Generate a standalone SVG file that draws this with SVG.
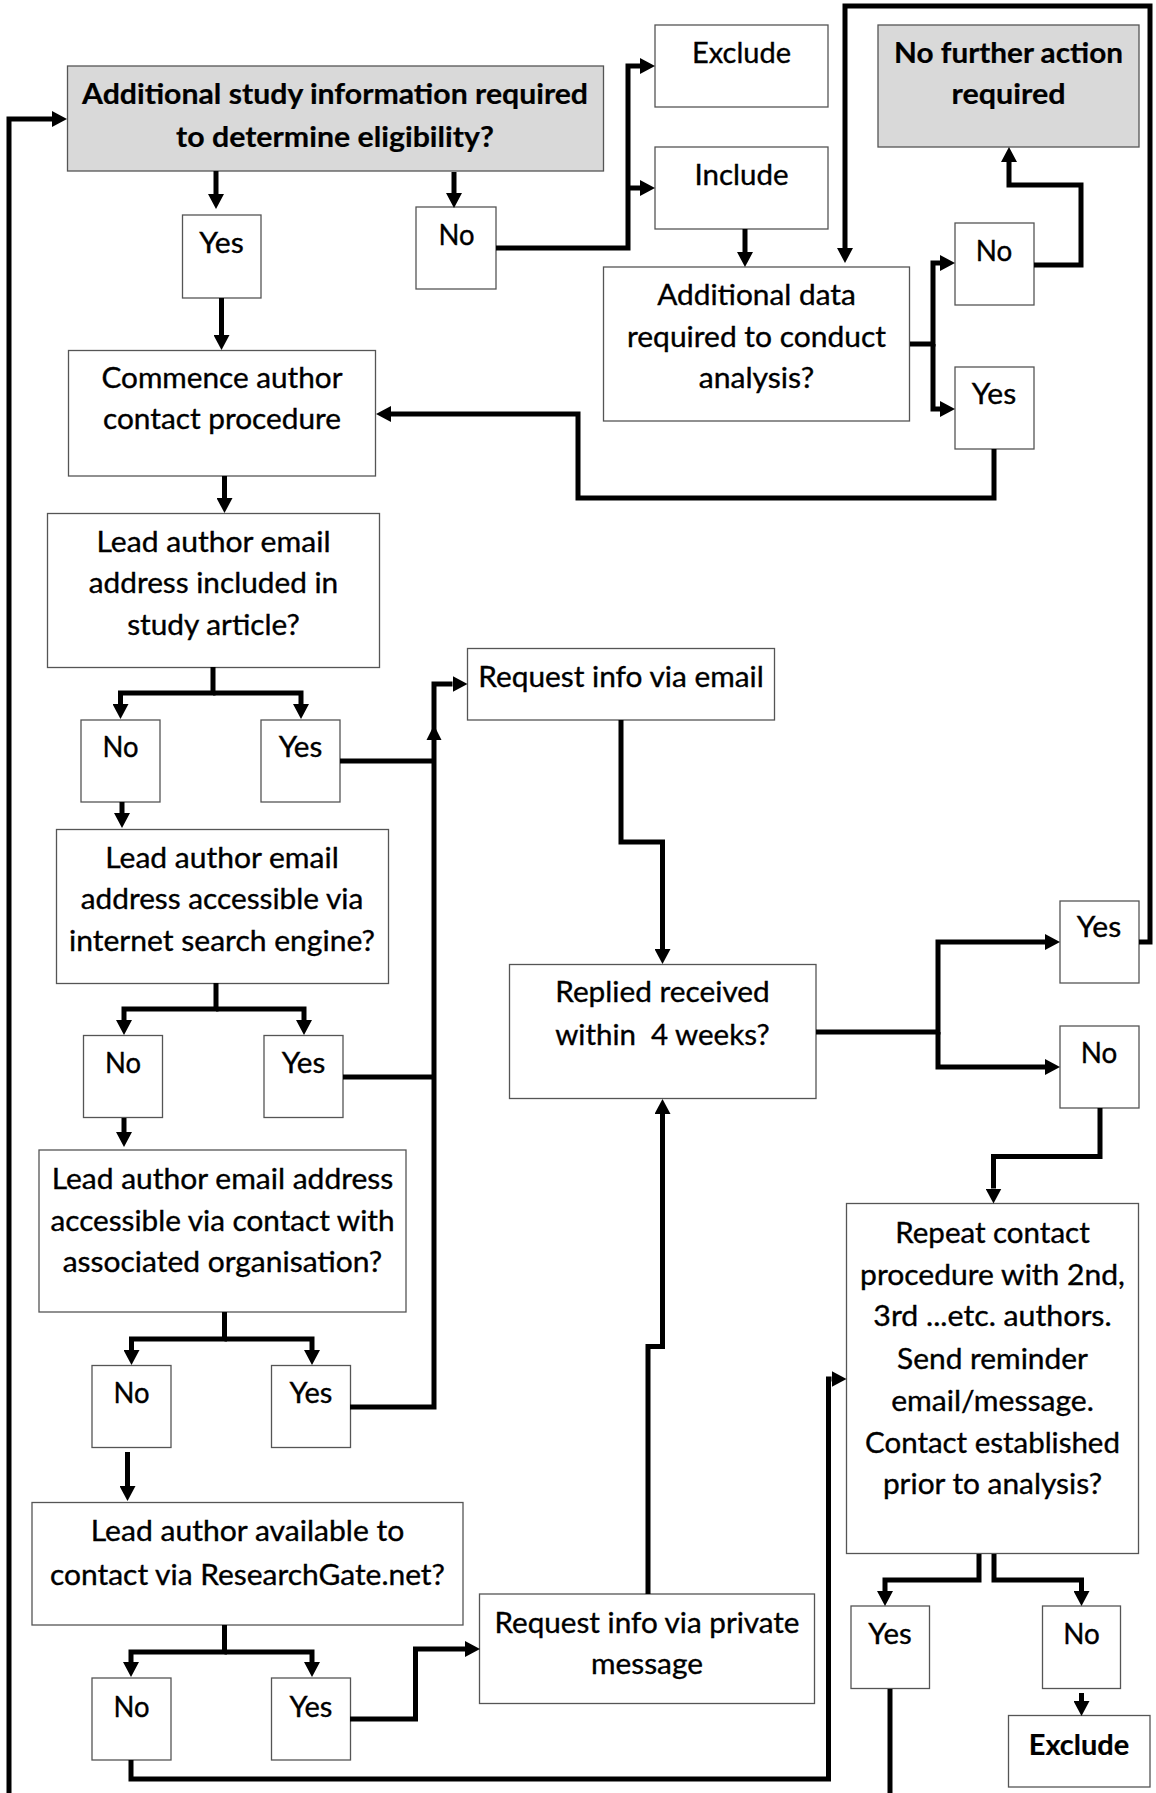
<svg xmlns="http://www.w3.org/2000/svg" width="1156" height="1793" viewBox="0 0 1156 1793">
  <defs>
    <style>
      .box { fill: #ffffff; stroke: #555555; stroke-width: 1.3; }
      .grey { fill: #d9d9d9; }
      .t { font-family: Lato, "Open Sans", "Liberation Sans", sans-serif; font-size: 28px; fill: #000000; stroke: #000000; stroke-width: 0.35; text-anchor: middle; }
      .b { font-weight: bold; stroke-width: 0.2; }
      .wire { fill: none; stroke: #000000; stroke-width: 5; stroke-linejoin: miter; stroke-linecap: butt; }
      .arr { marker-end: url(#ah); }
      .head { fill: #000000; }
    </style>
    <marker id="ah" markerUnits="userSpaceOnUse" markerWidth="15" markerHeight="16" viewBox="0 0 15 16" refX="0" refY="8" orient="auto">
      <path d="M0,0 L15,8 L0,16 Z" fill="#000000"/>
    </marker>
  </defs>

  <rect x="0" y="0" width="1156" height="1793" fill="#ffffff"/>

  <!-- nodes -->
  <g id="n-eligibility">
    <rect class="box grey" x="67.5" y="66" width="536" height="105"/>
    <text class="t b" x="335" y="104" textLength="506" lengthAdjust="spacingAndGlyphs">Additional study information required</text>
    <text class="t b" x="335" y="147" textLength="318" lengthAdjust="spacingAndGlyphs">to determine eligibility?</text>
  </g>
  <g id="n-exclude-top">
    <rect class="box" x="655" y="25" width="173" height="82"/>
    <text class="t" x="741.5" y="63" textLength="99" lengthAdjust="spacingAndGlyphs">Exclude</text>
  </g>
  <g id="n-include">
    <rect class="box" x="655" y="147" width="173" height="82"/>
    <text class="t" x="741.5" y="185" textLength="94" lengthAdjust="spacingAndGlyphs">Include</text>
  </g>
  <g id="n-no-further-action">
    <rect class="box grey" x="878" y="25" width="261" height="122"/>
    <text class="t b" x="1008.5" y="63" textLength="229" lengthAdjust="spacingAndGlyphs">No further action</text>
    <text class="t b" x="1008.5" y="104" textLength="114" lengthAdjust="spacingAndGlyphs">required</text>
  </g>
  <g id="n-yes-eligibility">
    <rect class="box" x="182.5" y="215" width="78.5" height="83"/>
    <text class="t" x="221.5" y="253" textLength="44.5" lengthAdjust="spacingAndGlyphs">Yes</text>
  </g>
  <g id="n-no-eligibility">
    <rect class="box" x="416" y="207" width="80" height="82"/>
    <text class="t" x="456.5" y="245" textLength="36" lengthAdjust="spacingAndGlyphs">No</text>
  </g>
  <g id="n-additional-data">
    <rect class="box" x="603.5" y="267" width="306" height="154"/>
    <text class="t" x="756.5" y="305" textLength="198.6" lengthAdjust="spacingAndGlyphs">Additional data</text>
    <text class="t" x="756.5" y="347" textLength="259" lengthAdjust="spacingAndGlyphs">required to conduct</text>
    <text class="t" x="756.5" y="388" textLength="115.5" lengthAdjust="spacingAndGlyphs">analysis?</text>
  </g>
  <g id="n-no-data">
    <rect class="box" x="955" y="223" width="79" height="82"/>
    <text class="t" x="994" y="261" textLength="36.5" lengthAdjust="spacingAndGlyphs">No</text>
  </g>
  <g id="n-yes-data">
    <rect class="box" x="955" y="367" width="79" height="82"/>
    <text class="t" x="994" y="404" textLength="44.3" lengthAdjust="spacingAndGlyphs">Yes</text>
  </g>
  <g id="n-commence">
    <rect class="box" x="68.5" y="350.5" width="307" height="125.5"/>
    <text class="t" x="222" y="388" textLength="241" lengthAdjust="spacingAndGlyphs">Commence author</text>
    <text class="t" x="222" y="429" textLength="238" lengthAdjust="spacingAndGlyphs">contact procedure</text>
  </g>
  <g id="n-email-in-article">
    <rect class="box" x="47.5" y="513.5" width="332" height="154"/>
    <text class="t" x="213.5" y="551.5" textLength="234" lengthAdjust="spacingAndGlyphs">Lead author email</text>
    <text class="t" x="213.5" y="593" textLength="249.4" lengthAdjust="spacingAndGlyphs">address included in</text>
    <text class="t" x="213.5" y="635" textLength="172.7" lengthAdjust="spacingAndGlyphs">study article?</text>
  </g>
  <g id="n-no-article">
    <rect class="box" x="81" y="720" width="79" height="82"/>
    <text class="t" x="120.5" y="757" textLength="36" lengthAdjust="spacingAndGlyphs">No</text>
  </g>
  <g id="n-yes-article">
    <rect class="box" x="261" y="720" width="79" height="82"/>
    <text class="t" x="300.5" y="757" textLength="43.7" lengthAdjust="spacingAndGlyphs">Yes</text>
  </g>
  <g id="n-request-email">
    <rect class="box" x="467.5" y="648.5" width="307" height="71.5"/>
    <text class="t" x="621" y="686.5" textLength="285.4" lengthAdjust="spacingAndGlyphs">Request info via email</text>
  </g>
  <g id="n-email-search">
    <rect class="box" x="56.5" y="829.5" width="332" height="154"/>
    <text class="t" x="222" y="867.5" textLength="233.5" lengthAdjust="spacingAndGlyphs">Lead author email</text>
    <text class="t" x="222" y="909" textLength="282.4" lengthAdjust="spacingAndGlyphs">address accessible via</text>
    <text class="t" x="222" y="950.5" textLength="306" lengthAdjust="spacingAndGlyphs">internet search engine?</text>
  </g>
  <g id="n-no-search">
    <rect class="box" x="83.5" y="1035.5" width="79" height="82"/>
    <text class="t" x="123" y="1073" textLength="36" lengthAdjust="spacingAndGlyphs">No</text>
  </g>
  <g id="n-yes-search">
    <rect class="box" x="264" y="1035.5" width="79" height="82"/>
    <text class="t" x="303.5" y="1073" textLength="43.7" lengthAdjust="spacingAndGlyphs">Yes</text>
  </g>
  <g id="n-reply">
    <rect class="box" x="509.5" y="964.5" width="306.5" height="134"/>
    <text class="t" x="662.5" y="1001.5" textLength="214.6" lengthAdjust="spacingAndGlyphs">Replied received</text>
    <text class="t" x="662.5" y="1045" textLength="214.6" lengthAdjust="spacingAndGlyphs" xml:space="preserve">within  4 weeks?</text>
  </g>
  <g id="n-yes-reply">
    <rect class="box" x="1060" y="901" width="79" height="82"/>
    <text class="t" x="1099" y="936.5" textLength="44.3" lengthAdjust="spacingAndGlyphs">Yes</text>
  </g>
  <g id="n-no-reply">
    <rect class="box" x="1060" y="1026" width="79" height="82"/>
    <text class="t" x="1099" y="1063" textLength="36.5" lengthAdjust="spacingAndGlyphs">No</text>
  </g>
  <g id="n-email-organisation">
    <rect class="box" x="39" y="1150" width="367" height="162"/>
    <text class="t" x="222.5" y="1188.5" textLength="341.6" lengthAdjust="spacingAndGlyphs">Lead author email address</text>
    <text class="t" x="222.5" y="1230.5" textLength="344" lengthAdjust="spacingAndGlyphs">accessible via contact with</text>
    <text class="t" x="222.5" y="1272" textLength="319.6" lengthAdjust="spacingAndGlyphs">associated organisation?</text>
  </g>
  <g id="n-no-organisation">
    <rect class="box" x="92" y="1365.5" width="79" height="82"/>
    <text class="t" x="131.5" y="1403" textLength="36" lengthAdjust="spacingAndGlyphs">No</text>
  </g>
  <g id="n-yes-organisation">
    <rect class="box" x="271.5" y="1365.5" width="79" height="82"/>
    <text class="t" x="311" y="1403" textLength="42.9" lengthAdjust="spacingAndGlyphs">Yes</text>
  </g>
  <g id="n-researchgate">
    <rect class="box" x="32" y="1502.5" width="431" height="122.5"/>
    <text class="t" x="247.5" y="1540.5" textLength="313.5" lengthAdjust="spacingAndGlyphs">Lead author available to</text>
    <text class="t" x="247.5" y="1584.5" textLength="395" lengthAdjust="spacingAndGlyphs">contact via ResearchGate.net?</text>
  </g>
  <g id="n-no-researchgate">
    <rect class="box" x="92" y="1678" width="79" height="82"/>
    <text class="t" x="131.5" y="1716.5" textLength="36" lengthAdjust="spacingAndGlyphs">No</text>
  </g>
  <g id="n-yes-researchgate">
    <rect class="box" x="271.5" y="1678" width="79" height="82"/>
    <text class="t" x="311" y="1716.5" textLength="42.9" lengthAdjust="spacingAndGlyphs">Yes</text>
  </g>
  <g id="n-repeat">
    <rect class="box" x="846.5" y="1203.5" width="292" height="350"/>
    <text class="t" x="992.5" y="1242.5" textLength="194.5" lengthAdjust="spacingAndGlyphs">Repeat contact</text>
    <text class="t" x="992.5" y="1284.5" textLength="264.8" lengthAdjust="spacingAndGlyphs">procedure with 2nd,</text>
    <text class="t" x="992.5" y="1326" textLength="238.3" lengthAdjust="spacingAndGlyphs">3rd ...etc. authors.</text>
    <text class="t" x="992.5" y="1369" textLength="190.9" lengthAdjust="spacingAndGlyphs">Send reminder</text>
    <text class="t" x="992.5" y="1411" textLength="202.7" lengthAdjust="spacingAndGlyphs">email/message.</text>
    <text class="t" x="992.5" y="1452.5" textLength="254.8" lengthAdjust="spacingAndGlyphs">Contact established</text>
    <text class="t" x="992.5" y="1494" textLength="219.2" lengthAdjust="spacingAndGlyphs">prior to analysis?</text>
  </g>
  <g id="n-request-message">
    <rect class="box" x="479.5" y="1594" width="335" height="109.5"/>
    <text class="t" x="647" y="1633" textLength="305" lengthAdjust="spacingAndGlyphs">Request info via private</text>
    <text class="t" x="647" y="1673.5" textLength="111.9" lengthAdjust="spacingAndGlyphs">message</text>
  </g>
  <g id="n-yes-contact">
    <rect class="box" x="851" y="1606" width="78.5" height="82.5"/>
    <text class="t" x="890" y="1643.5" textLength="43.4" lengthAdjust="spacingAndGlyphs">Yes</text>
  </g>
  <g id="n-no-contact">
    <rect class="box" x="1042.5" y="1606" width="78" height="82.5"/>
    <text class="t" x="1081.5" y="1643.5" textLength="36.5" lengthAdjust="spacingAndGlyphs">No</text>
  </g>
  <g id="n-exclude-bottom">
    <rect class="box" x="1008.5" y="1715.5" width="141.5" height="71.5"/>
    <text class="t b" x="1079" y="1754.5" textLength="100.5" lengthAdjust="spacingAndGlyphs">Exclude</text>
  </g>

  <!-- connectors -->
  <g id="connectors">
    <path class="wire arr" d="M9,1793 V119 H52"/>
    <path class="wire arr" d="M216,171 V194"/>
    <path class="wire arr" d="M454,172 V193"/>
    <path class="wire arr" d="M496,248 H628 V66 H640"/>
    <path class="wire arr" d="M628,188 H640"/>
    <path class="wire arr" d="M221.5,298 V335"/>
    <path class="wire arr" d="M745,229 V252"/>
    <path class="wire arr" d="M1139,942 H1150 V6 H845 V248"/>
    <path class="wire arr" d="M910,344 H933 V263 H940"/>
    <path class="wire arr" d="M933,344 V409 H940"/>
    <path class="wire arr" d="M1034,265 H1081 V185 H1009 V162"/>
    <path class="wire arr" d="M994,449 V498 H578 V414 H391"/>
    <path class="wire arr" d="M224.5,476 V498"/>
    <path class="wire arr" d="M213,667 V693 H120.5 V704"/>
    <path class="wire arr" d="M213,693 H301 V704"/>
    <path class="wire arr" d="M350,1407 H434 V684 H452.5"/>
    <path class="wire" d="M340,761 H434"/>
    <path class="wire" d="M343,1077 H434"/>
    <polygon class="head" points="426.5,740 441.5,740 434,725"/>
    <path class="wire arr" d="M122,802 V813"/>
    <path class="wire arr" d="M621,720 V842 H662.5 V949"/>
    <path class="wire arr" d="M216,983 V1009 H124 V1020"/>
    <path class="wire arr" d="M216,1009 H304 V1020"/>
    <path class="wire arr" d="M816,1032 H938 V942 H1045"/>
    <path class="wire arr" d="M938,1032 V1067 H1045"/>
    <path class="wire arr" d="M124,1118 V1132"/>
    <path class="wire arr" d="M1100,1108 V1156.5 H993.5 V1188.5"/>
    <path class="wire arr" d="M224.5,1312 V1339 H131.5 V1350"/>
    <path class="wire arr" d="M224.5,1339 H312 V1350"/>
    <path class="wire arr" d="M127.5,1452 V1486"/>
    <path class="wire arr" d="M648,1594 V1346.5 H662.5 V1114"/>
    <path class="wire arr" d="M224.5,1625 V1652 H131 V1662"/>
    <path class="wire arr" d="M224.5,1652 H312 V1662"/>
    <path class="wire arr" d="M350,1719 H415.5 V1649 H465"/>
    <path class="wire arr" d="M131,1760 V1779 H828.5 V1379 H831.5"/>
    <path class="wire arr" d="M979,1554 V1580 H885 V1591"/>
    <path class="wire arr" d="M994,1554 V1580 H1081.5 V1591"/>
    <path class="wire" d="M890,1689 V1793"/>
    <path class="wire arr" d="M1081.5,1693 V1701"/>
  </g>
</svg>
